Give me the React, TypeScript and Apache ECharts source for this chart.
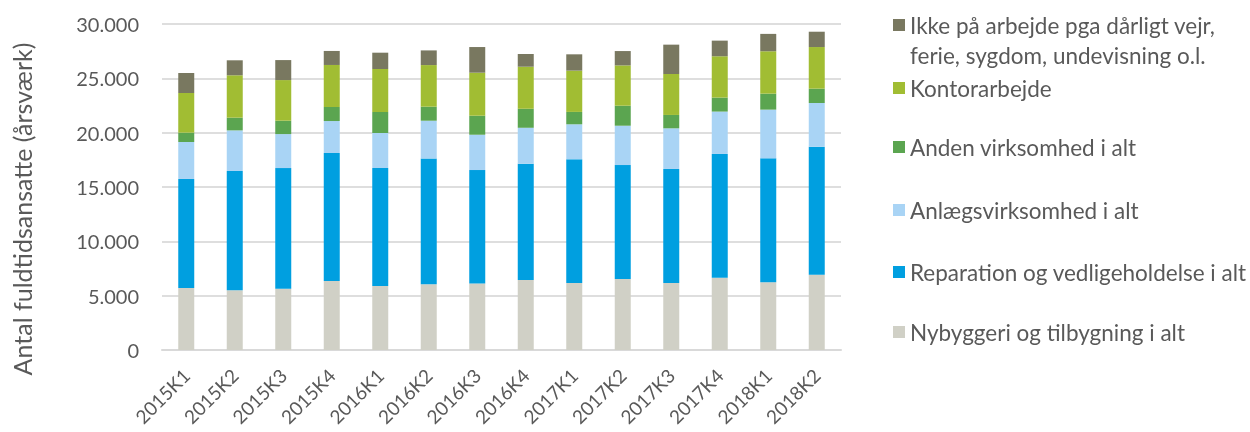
import React, { useEffect, useRef } from "react";
import * as echarts from "echarts";

// Quarters
const categories = [
  "2015K1", "2015K2", "2015K3", "2015K4",
  "2016K1", "2016K2", "2016K3", "2016K4",
  "2017K1", "2017K2", "2017K3", "2017K4",
  "2018K1", "2018K2",
];

// Full-time employees (årsværk) per activity, stacked from the bottom
const nybyggeri = [5710, 5490, 5640, 6350, 5890, 6040, 6130, 6440, 6170, 6530, 6170, 6660, 6230, 6930];
const reparation = [10030, 10980, 11100, 11780, 10860, 11590, 10430, 10700, 11380, 10490, 10490, 11380, 11410, 11780];
const anlaeg = [3400, 3740, 3130, 2940, 3220, 3470, 3250, 3310, 3220, 3620, 3740, 3900, 4480, 4020];
const anden = [860, 1170, 1230, 1290, 1930, 1290, 1750, 1750, 1140, 1840, 1230, 1290, 1470, 1320];
const kontor = [3650, 3900, 3740, 3870, 3960, 3830, 3960, 3870, 3800, 3710, 3770, 3800, 3900, 3830];
const ikke = [1840, 1380, 1840, 1290, 1500, 1350, 2360, 1170, 1500, 1320, 2700, 1440, 1600, 1410];

const yTicks = { min: 0, max: 30000, interval: 5000 };

const seriesDefs = [
  { name: "Nybyggeri og tilbygning i alt", data: nybyggeri, color: "#d0d0c6" },
  { name: "Reparation og vedligeholdelse i alt", data: reparation, color: "#009fe0" },
  { name: "Anlægsvirksomhed i alt", data: anlaeg, color: "#a9d4f5" },
  { name: "Anden virksomhed i alt", data: anden, color: "#5ba550" },
  { name: "Kontorarbejde", data: kontor, color: "#a1bd33" },
  {
    name: "Ikke på arbejde pga dårligt vejr, ferie, sygdom, undevisning o.l.",
    data: ikke,
    color: "#797860",
  },
];

const FONT = "Lato";
const TEXT_COLOR = "#595959";

const fmtThousands = (v: number) =>
  String(v).replace(/\B(?=(\d{3})+(?!\d))/g, ".");

// Vertical centres of each legend row (top row first)
const legendRows = [
  { idx: 5, center: 25 },
  { idx: 4, center: 88 },
  { idx: 3, center: 147 },
  { idx: 2, center: 210 },
  { idx: 1, center: 272 },
  { idx: 0, center: 332 },
];

export default function App() {
  const ref = useRef<HTMLDivElement>(null);

  useEffect(() => {
    if (!ref.current) return;
    const chart = echarts.init(ref.current, undefined, { renderer: "svg" });

    const legends = legendRows.map(({ idx, center }) => {
      const multi = idx === 5;
      const lh = multi ? 30 : 26;
      return {
        data: [seriesDefs[idx].name],
        orient: "vertical",
        left: 893,
        // the wrapped entry carries an empty first line so that its
        // marker sits level with the first line of text
        top: multi ? center - 45 : center - lh / 2,
        padding: 0,
        icon: "rect",
        itemWidth: 12,
        itemHeight: 12,
        itemGap: 0,
        selectedMode: false,
        formatter: multi
          ? () => "\nIkke på arbejde pga dårligt vejr,\nferie, sygdom, undevisning o.l."
          : undefined,
        textStyle: {
          fontFamily: FONT,
          fontSize: 22.5,
          color: TEXT_COLOR,
          lineHeight: lh,
        },
      };
    });

    chart.setOption({
      animation: false,
      textStyle: { fontFamily: FONT },
      grid: {
        left: 162,
        right: 409,
        top: 24,
        bottom: 82,
        containLabel: false,
        outerBoundsMode: "none",
      },
      legend: legends,
      xAxis: {
        type: "category",
        data: categories,
        axisLine: { lineStyle: { color: "#d9d9d9", width: 2 } },
        axisTick: { show: false },
        axisLabel: {
          rotate: 45,
          fontFamily: FONT,
          fontSize: 19,
          color: TEXT_COLOR,
          margin: 22,
          interval: 0,
        },
      },
      yAxis: {
        type: "value",
        min: yTicks.min,
        max: yTicks.max,
        interval: yTicks.interval,
        name: "Antal fuldtidsansatte (årsværk)",
        nameLocation: "middle",
        nameGap: 128,
        nameTextStyle: {
          fontFamily: FONT,
          fontSize: 25,
          color: TEXT_COLOR,
          padding: [0, 44, 0, 0],
        },
        axisLine: { show: false },
        axisTick: { show: false },
        axisLabel: {
          fontFamily: FONT,
          fontSize: 20,
          color: TEXT_COLOR,
          margin: 23,
          formatter: (v: number) => fmtThousands(v),
        },
        splitLine: { lineStyle: { color: "#dedede", width: 2 } },
      },
      series: seriesDefs.map((s) => ({
        name: s.name,
        type: "bar",
        stack: "total",
        barWidth: 16,
        data: s.data,
        itemStyle: { color: s.color },
      })),
    });

    return () => chart.dispose();
  }, []);

  return (
    <div
      ref={ref}
      style={{ position: "fixed", left: 0, top: 0, width: 1250, height: 432 }}
    />
  );
}
